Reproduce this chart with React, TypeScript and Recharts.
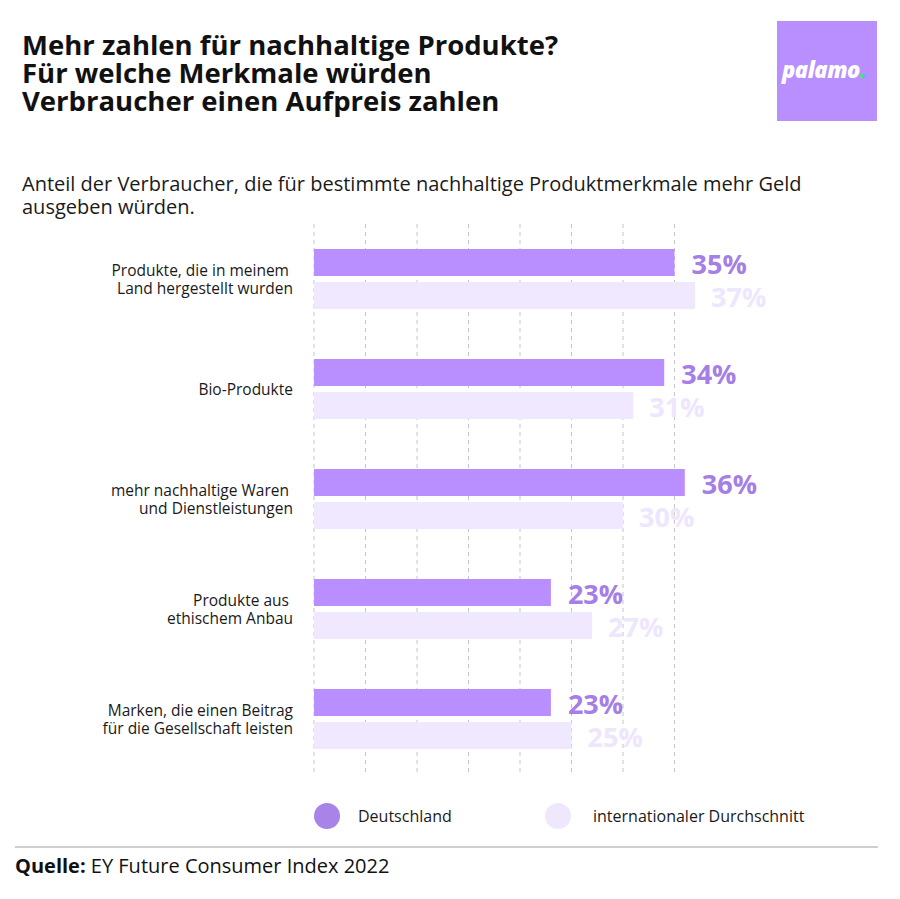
import { BarChart, Bar, XAxis, YAxis, CartesianGrid, LabelList } from 'recharts';

// Kategorien (Zeilen der Achsenbeschriftung)
const categories = [
  ['Produkte, die in meinem\u00a0', 'Land hergestellt wurden'],
  ['Bio-Produkte'],
  ['mehr nachhaltige Waren\u00a0', 'und Dienstleistungen'],
  ['Produkte aus\u00a0', 'ethischem Anbau'],
  ['Marken, die einen Beitrag', 'für die Gesellschaft leisten'],
];
const deutschland = [35, 34, 36, 23, 23];
const international = [37, 31, 30, 27, 25];
const xTicks = [0, 5, 10, 15, 20, 25, 30, 35];
const xMax = 40;

const seriesNames = ['Deutschland', 'internationaler Durchschnitt'];
const barColors = ['#b98eff', '#efe8ff'];
const legendColors = ['#a884e8', '#efe8fd'];
const labelColors = ['#a57ee6', '#eee6fd'];

const data = categories.map((lines, i) => ({
  name: lines.join(' '),
  lines,
  de: deutschland[i],
  intl: international[i],
}));

const FONT = '"Open Sans", "Noto Sans", sans-serif';

const CategoryTick = (props: any) => {
  const { y, payload } = props;
  const row = data.find((d) => d.name === payload.value);
  const lines = row ? row.lines : [payload.value];
  const lh = 18;
  const start = y - ((lines.length - 1) * lh) / 2;
  return (
    <text x={293} y={start} textAnchor="end" fontFamily={FONT} fontSize={15.5} fill="#1a1a1a" dominantBaseline="central">
      {lines.map((l: string, i: number) => (
        <tspan key={i} x={293} y={start + i * lh} style={{ whiteSpace: 'pre' }}>
          {l}
        </tspan>
      ))}
    </text>
  );
};

// Gitterlinien nur bis 35 %
const gridX = ({ offset }: any) => xTicks.map((t) => offset.left + (t / xMax) * offset.width);

export default function App() {
  return (
    <div style={{ position: 'absolute', left: 0, top: 0, width: 900, height: 899, background: '#fff', fontFamily: FONT, overflow: 'hidden' }}>
      <div style={{ position: 'absolute', left: 22, top: 31, fontSize: 27.5, fontWeight: 700, lineHeight: '28px', color: '#111' }}>
        Mehr zahlen für nachhaltige Produkte?
        <br />
        Für welche Merkmale würden
        <br />
        Verbraucher einen Aufpreis zahlen
      </div>
      <div style={{ position: 'absolute', left: 777, top: 21, width: 100, height: 100, background: '#b98eff' }}>
        <div style={{ position: 'absolute', left: 5, top: 34, fontSize: 22, lineHeight: '28px', fontWeight: 800, fontStyle: 'italic', color: '#fff', letterSpacing: -0.5 }}>
          palamo<span style={{ color: '#3ee08b' }}>.</span>
        </div>
      </div>
      <div style={{ position: 'absolute', left: 22, top: 172, width: 800, fontSize: 20, lineHeight: '23px', color: '#1a1a1a' }}>
        Anteil der Verbraucher, die für bestimmte nachhaltige Produktmerkmale mehr Geld ausgeben würden.
      </div>

      <div style={{ position: 'absolute', left: 0, top: 0 }}>
        <BarChart
          width={900}
          height={800}
          layout="vertical"
          data={data}
          margin={{ top: 224, right: 174, left: 0, bottom: 26 }}
          barSize={27}
          barGap={6}
          barCategoryGap={25}
        >
          <CartesianGrid horizontal={false} vertical stroke="#c4c4c4" strokeDasharray="4 4" verticalCoordinatesGenerator={gridX} />
          <XAxis type="number" domain={[0, xMax]} ticks={xTicks} hide />
          <YAxis type="category" dataKey="name" width={314} axisLine={false} tickLine={false} tick={<CategoryTick />} interval={0} />
          <Bar dataKey="de" name={seriesNames[0]} fill={barColors[0]} isAnimationActive={false}>
            <LabelList
              dataKey="de"
              position="right"
              offset={17}
              dy={2}
              formatter={(v: any) => `${v}%`}
              style={{ fontFamily: FONT, fontSize: 27, fontWeight: 700, fill: labelColors[0] }}
            />
          </Bar>
          <Bar dataKey="intl" name={seriesNames[1]} fill={barColors[1]} isAnimationActive={false}>
            <LabelList
              dataKey="intl"
              position="right"
              offset={16}
              dy={2}
              formatter={(v: any) => `${v}%`}
              style={{ fontFamily: FONT, fontSize: 27, fontWeight: 700, fill: labelColors[1] }}
            />
          </Bar>
        </BarChart>
      </div>

      {/* Legende */}
      <div style={{ position: 'absolute', left: 0, top: 803, width: 900, height: 26, fontSize: 16, color: '#1a1a1a' }}>
        {seriesNames.map((n, i) => (
          <div key={n} style={{ position: 'absolute', left: i === 0 ? 314 : 545, top: 0, height: 26, display: 'flex', alignItems: 'center' }}>
            <span style={{ width: 26, height: 26, borderRadius: '50%', background: legendColors[i], display: 'inline-block' }} />
            <span style={{ marginLeft: i === 0 ? 18 : 22 }}>{n}</span>
          </div>
        ))}
      </div>

      <div style={{ position: 'absolute', left: 15, top: 846, width: 863, height: 2, background: '#cfcfcf' }} />
      <div style={{ position: 'absolute', left: 15, top: 852, fontSize: 20, lineHeight: '28px', color: '#111' }}>
        <b>Quelle:</b> EY Future Consumer Index 2022
      </div>
    </div>
  );
}
